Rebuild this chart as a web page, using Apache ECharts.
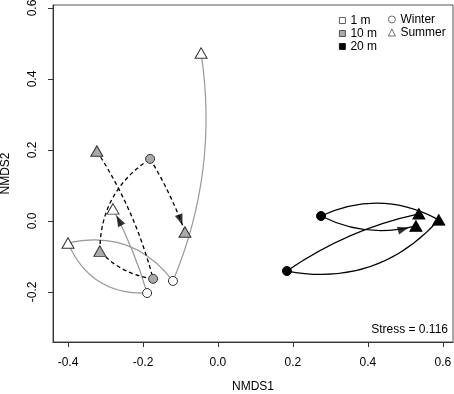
<!DOCTYPE html>
<html>
<head>
<meta charset="utf-8">
<script src="https://cdn.jsdelivr.net/npm/echarts@6/dist/echarts.min.js"></script>
<style>
html, body { margin: 0; padding: 0; background: #fff; }
#main { width: 454px; height: 394px; }
</style>
</head>
<body>
<div id="main"></div>
<script>
// order of samples along every path: summer, winter, summer, winter, summer
var seasons = ['Summer', 'Winter', 'Summer', 'Winter', 'Summer'];

var nmds1_1m = [-0.045, -0.120, -0.400, -0.189, -0.280];
var nmds2_1m = [0.473, -0.169, -0.062, -0.203, 0.034];

var nmds1_10m = [-0.323, -0.173, -0.315, -0.181, -0.088];
var nmds2_10m = [0.197, -0.163, -0.085, 0.175, -0.031];

var nmds1_20m = [0.536, 0.184, 0.589, 0.275, 0.528];
var nmds2_20m = [0.020, -0.141, 0.003, 0.014, -0.014];

var xTicks = [-0.4, -0.2, 0.0, 0.2, 0.4, 0.6];
var yTicks = [-0.2, 0.0, 0.2, 0.4, 0.6];
var stress = 0.116;

// bend of every step (style only)
var bend1m = [0.14, -0.32, -0.34, -0.05];
var bend10m = [0.08, 0.18, 0.27, 0.05];
var bend20m = [-0.1, -0.28, -0.25, -0.19];

var font = '"Liberation Sans", Arial, sans-serif';

function points(name, xs, ys, fill) {
    var pts = [];
    for (var i = 0; i < xs.length; i++) {
        var winter = seasons[i] == 'Winter';
        pts.push({
            value: [xs[i], ys[i]],
            symbol: winter ? 'circle' : 'triangle',
            symbolSize: winter ? 9 : [12, 10.5]
        });
    }
    return {
        name: name,
        type: 'scatter',
        z: 3,
        data: pts,
        itemStyle: {
            color: fill,
            borderColor: fill == '#000' ? '#000' : '#333',
            borderWidth: 1,
            opacity: 1
        },
        emphasis: { disabled: true }
    };
}

function path(xs, ys, line, bends) {
    var segs = [];
    for (var i = 0; i < xs.length - 1; i++) {
        segs.push({
            coords: [[xs[i], ys[i]], [xs[i + 1], ys[i + 1]]],
            lineStyle: { curveness: bends[i] }
        });
    }
    return {
        type: 'lines',
        coordinateSystem: 'cartesian2d',
        z: 1,
        silent: true,
        symbol: 'none',
        lineStyle: line,
        data: segs
    };
}

// arrow head just before the last sample, along the end tangent of the last step
function arrowHead(xs, ys, bends) {
    var n = xs.length - 1;
    var p1 = myChart.convertToPixel({ gridIndex: 0 }, [xs[n - 1], ys[n - 1]]);
    var p2 = myChart.convertToPixel({ gridIndex: 0 }, [xs[n], ys[n]]);
    var c = bends[n - 1];
    var cp = [(p1[0] + p2[0]) / 2 - (p1[1] - p2[1]) * c, (p1[1] + p2[1]) / 2 - (p2[0] - p1[0]) * c];
    var tx = p2[0] - cp[0], ty = p2[1] - cp[1];
    var len = Math.sqrt(tx * tx + ty * ty);
    return {
        value: [xs[n], ys[n]],
        symbolRotate: -90 - Math.atan2(ty, tx) * 180 / Math.PI,
        symbolOffset: [-13 * tx / len, -13 * ty / len]
    };
}

var myChart = echarts.init(document.getElementById('main'));
var legendText = { fontSize: 12, color: '#000', lineHeight: 13, fontFamily: font };
var option = {
    animation: false,
    textStyle: { fontFamily: font },
    grid: {
        left: 53, right: 1, top: 5, bottom: 52,
        show: true, borderColor: '#555', borderWidth: 1,
        outerBoundsMode: 'none'
    },
    legend: [{
        orient: 'vertical',
        left: 339, top: 14, padding: 0,
        itemWidth: 6, itemHeight: 6, itemGap: 0,
        selectedMode: false,
        itemStyle: { borderWidth: 0.8 },
        textStyle: legendText,
        data: [
            { name: '1 m', icon: 'rect' },
            { name: '10 m', icon: 'rect' },
            { name: '20 m', icon: 'rect' }
        ]
    }, {
        orient: 'vertical',
        left: 388, top: 13, padding: 0,
        itemWidth: 7, itemHeight: 7, itemGap: 0,
        selectedMode: false,
        itemStyle: { borderWidth: 0.8 },
        textStyle: legendText,
        data: [
            { name: 'Winter', icon: 'circle' },
            { name: 'Summer', icon: 'triangle' }
        ]
    }],
    xAxis: {
        type: 'value',
        min: -0.44, max: 0.627,
        name: 'NMDS1',
        nameLocation: 'middle',
        nameGap: 39,
        nameTextStyle: { fontSize: 12, color: '#000' },
        axisLine: { show: true, onZero: false, lineStyle: { color: '#333' } },
        axisTick: { show: true, length: 5, customValues: xTicks, lineStyle: { color: '#333' } },
        axisLabel: {
            customValues: xTicks, margin: 15, fontSize: 12, color: '#000',
            formatter: function(v) { return v.toFixed(1); }
        },
        splitLine: { show: false }
    },
    yAxis: {
        type: 'value',
        min: -0.341, max: 0.6085,
        name: 'NMDS2',
        nameLocation: 'middle',
        nameGap: 41,
        nameTextStyle: { fontSize: 12, color: '#000' },
        axisLine: { show: true, onZero: false, lineStyle: { color: '#333' } },
        axisTick: { show: true, length: 5, customValues: yTicks, lineStyle: { color: '#333' } },
        axisLabel: {
            customValues: yTicks, margin: 14, fontSize: 12, color: '#000', rotate: 90,
            formatter: function(v) { return v.toFixed(1); }
        },
        splitLine: { show: false }
    },
    graphic: [{
        type: 'text',
        right: 6, top: 324,
        style: { text: 'Stress = ' + stress, fontSize: 12, fill: '#000', fontFamily: font }
    }],
    series: [
        points('1 m', nmds1_1m, nmds2_1m, '#fff'),
        points('10 m', nmds1_10m, nmds2_10m, '#aaa'),
        points('20 m', nmds1_20m, nmds2_20m, '#000'),
        { name: 'Winter', type: 'scatter', data: [], itemStyle: { color: '#fff', borderColor: '#222', borderWidth: 0.8 } },
        { name: 'Summer', type: 'scatter', data: [], itemStyle: { color: '#fff', borderColor: '#222', borderWidth: 0.8 } },
        path(nmds1_1m, nmds2_1m, { color: '#999', width: 1.2, type: 'solid', opacity: 1 }, bend1m),
        path(nmds1_10m, nmds2_10m, { color: '#000', width: 1.3, type: [4, 3], opacity: 1 }, bend10m),
        path(nmds1_20m, nmds2_20m, { color: '#000', width: 1.3, type: 'solid', opacity: 1 }, bend20m),
        {
            id: 'arrows', type: 'scatter', z: 2, silent: true,
            symbol: 'triangle', symbolSize: [8, 11],
            itemStyle: { color: '#000' },
            data: []
        }
    ]
};
myChart.setOption(option);

myChart.setOption({
    series: [{
        id: 'arrows',
        data: [
            arrowHead(nmds1_1m, nmds2_1m, bend1m),
            arrowHead(nmds1_10m, nmds2_10m, bend10m),
            arrowHead(nmds1_20m, nmds2_20m, bend20m)
        ]
    }]
});
</script>
</body>
</html>
